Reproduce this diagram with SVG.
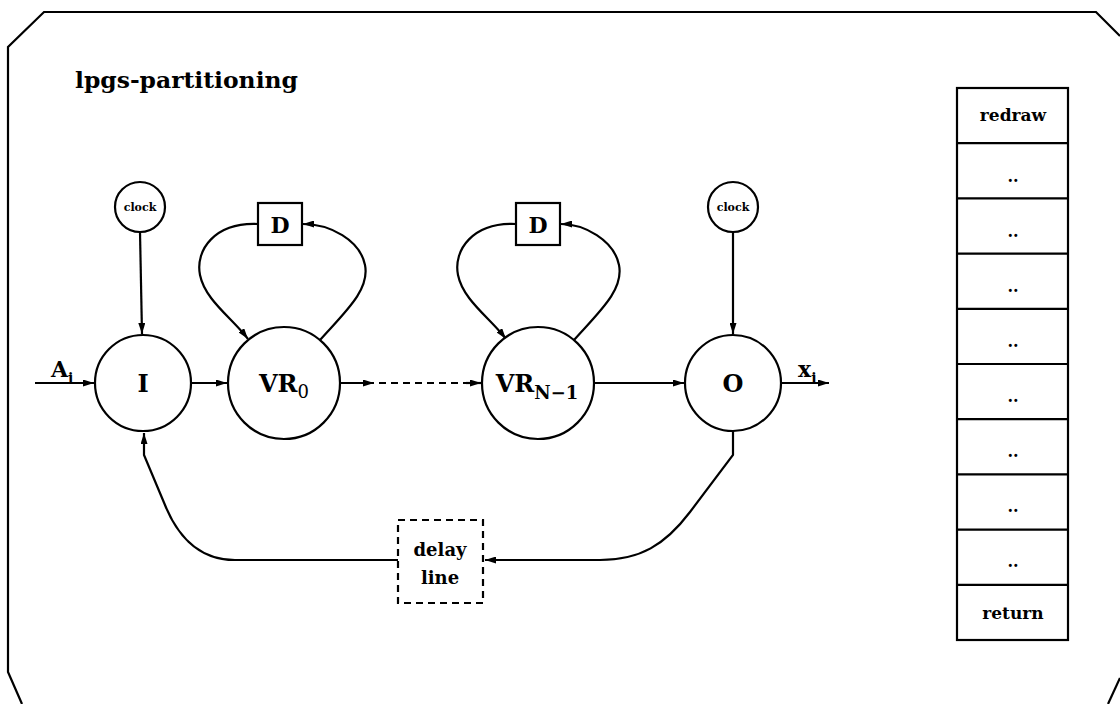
<svg xmlns="http://www.w3.org/2000/svg" width="1120" height="704" viewBox="0 0 1120 704">
<defs>
<marker id="ah" viewBox="0 0 11 7" refX="11" refY="3.5" markerWidth="11" markerHeight="7" markerUnits="userSpaceOnUse" orient="auto">
<path d="M0,0 L11,3.5 L0,7 Z" fill="#000"/>
</marker>
<style>
.ln{fill:none;stroke:#000;stroke-width:2.2}
.nd{fill:#fff;stroke:#000;stroke-width:2.2}
.t{font-family:"DejaVu Serif","Liberation Serif",serif;font-weight:bold;fill:#000}
.dash{fill:none;stroke:#000;stroke-width:2.2;stroke-dasharray:7,5}
</style>
</defs>
<rect width="1120" height="704" fill="#fff"/>
<g id="frame">
<path class="ln" d="M1120,36 L1096,12 L44,12 L8,47 L8,672 L22,704"/>
<path class="ln" d="M1120,678 L1108,704"/>
</g>
<g id="title"><text class="t" x="75" y="88" font-size="22" textLength="223" lengthAdjust="spacingAndGlyphs">lpgs-partitioning</text></g>
<g id="connectors">
<path class="ln" d="M140,232 L142,334" marker-end="url(#ah)"/>
<path class="ln" d="M733,232 L733,334" marker-end="url(#ah)"/>
<path class="ln" d="M35,383 L94,383" marker-end="url(#ah)"/>
<path class="ln" d="M192,383 L227,383" marker-end="url(#ah)"/>
<path class="ln" d="M341,383 L374,383" marker-end="url(#ah)"/>
<path class="dash" d="M379,383 L470,383"/>
<path class="ln" d="M466,383 L481,383" marker-end="url(#ah)"/>
<path class="ln" d="M595,383 L684,383" marker-end="url(#ah)"/>
<path class="ln" d="M782,383 L829,383" marker-end="url(#ah)"/>
<path class="ln" d="M258,224 C215,222 195,250 200,275 C205,300 232,318 248,339" marker-end="url(#ah)"/>
<path class="ln" d="M320,340 C345,312 370,290 365,265 C360,240 330,224 303,224" marker-end="url(#ah)"/>
<path class="ln" d="M516,224 C473,222 453,250 458,275 C463,300 490,318 506,339" marker-end="url(#ah)"/>
<path class="ln" d="M574,340 C599,312 624,290 619,265 C614,240 584,224 561,224" marker-end="url(#ah)"/>
<path class="ln" d="M733,413 L733,455 L690,512 C665,545 640,560 600,560 L485,560" marker-end="url(#ah)"/>
<path class="ln" d="M398,560 L235,560 C195,560 175,530 165,505 L144,455 L144,433" marker-end="url(#ah)"/>
</g>
<g id="clock1"><circle class="nd" cx="140" cy="207" r="25"/><text class="t" x="140" y="211" font-size="11" text-anchor="middle">clock</text></g>
<g id="clock2"><circle class="nd" cx="733" cy="207" r="25"/><text class="t" x="733" y="211" font-size="11" text-anchor="middle">clock</text></g>
<g id="D1"><rect class="nd" x="258" y="203" width="44" height="42"/><text class="t" x="280" y="233" font-size="22" text-anchor="middle">D</text></g>
<g id="D2"><rect class="nd" x="516" y="203" width="44" height="42"/><text class="t" x="538" y="233" font-size="22" text-anchor="middle">D</text></g>
<g id="I"><circle class="nd" cx="143" cy="383" r="48"/><text class="t" x="143" y="392" font-size="24" text-anchor="middle">I</text></g>
<g id="VR0"><circle class="nd" cx="284" cy="383" r="56"/><text class="t" x="284" y="392" font-size="24" text-anchor="middle">VR<tspan font-size="18" font-weight="normal" dy="6">0</tspan></text></g>
<g id="VRN1"><circle class="nd" cx="538" cy="383" r="56"/><text class="t" x="537" y="392" font-size="24" text-anchor="middle">VR<tspan font-size="18" dy="7">N−1</tspan></text></g>
<g id="O"><circle class="nd" cx="733" cy="383" r="48"/><text class="t" x="733" y="392" font-size="24" text-anchor="middle">O</text></g>
<g id="labels">
<text class="t" x="51" y="377" font-size="22">A<tspan font-size="14" dy="6">i</tspan></text>
<text class="t" x="798" y="377" font-size="22">x<tspan font-size="14" dy="6">i</tspan></text>
</g>
<g id="delay"><rect class="dash" x="398" y="520" width="85" height="83"/><text class="t" x="440" y="556" font-size="18" text-anchor="middle">delay</text><text class="t" x="440" y="584" font-size="18" text-anchor="middle">line</text></g>
<g id="table">
<rect class="nd" x="957" y="88" width="111" height="552"/>
<path class="ln" d="M957,143.2 H1068 M957,198.4 H1068 M957,253.6 H1068 M957,308.8 H1068 M957,364 H1068 M957,419.2 H1068 M957,474.4 H1068 M957,529.6 H1068 M957,584.8 H1068"/>
<text class="t" x="1013" y="121" font-size="17" text-anchor="middle">redraw</text>
<text class="t" x="1013" y="182" font-size="16" text-anchor="middle">..</text>
<text class="t" x="1013" y="237" font-size="16" text-anchor="middle">..</text>
<text class="t" x="1013" y="292" font-size="16" text-anchor="middle">..</text>
<text class="t" x="1013" y="347" font-size="16" text-anchor="middle">..</text>
<text class="t" x="1013" y="402" font-size="16" text-anchor="middle">..</text>
<text class="t" x="1013" y="457" font-size="16" text-anchor="middle">..</text>
<text class="t" x="1013" y="512" font-size="16" text-anchor="middle">..</text>
<text class="t" x="1013" y="567" font-size="16" text-anchor="middle">..</text>
<text class="t" x="1013" y="619" font-size="17" text-anchor="middle">return</text>
</g>
</svg>
